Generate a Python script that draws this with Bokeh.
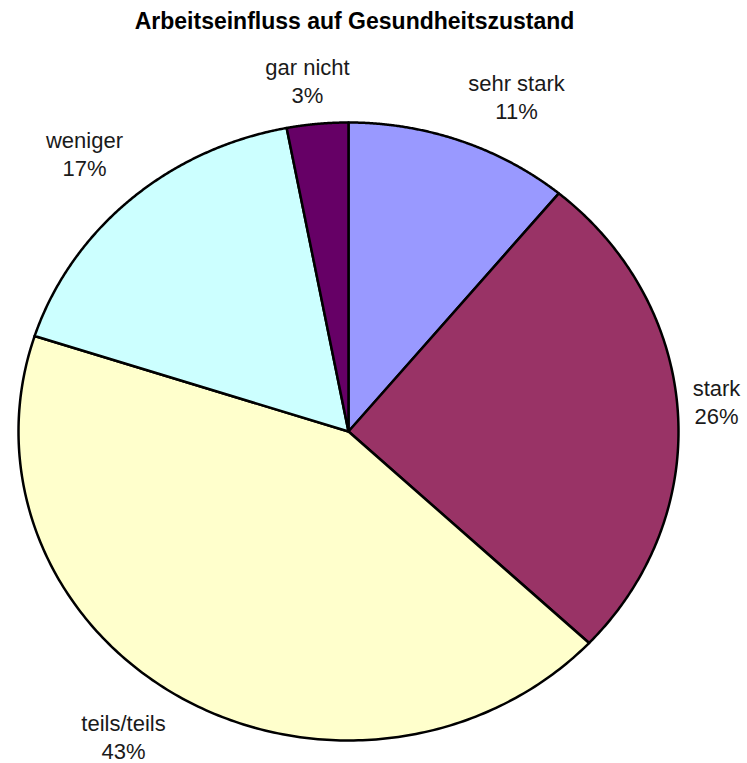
import numpy as np
from bokeh.plotting import figure
from bokeh.models import Range1d, ColumnDataSource
from bokeh.core.properties import value
from bokeh.embed import file_html
from bokeh.resources import INLINE

# ---- data ----
categories = ["sehr stark", "stark", "teils/teils", "weniger", "gar nicht"]
shares = [11, 26, 43, 17, 3]
colors = ["#9999FF", "#993366", "#FFFFCC", "#CCFFFF", "#660066"]
title = "Arbeitseinfluss auf Gesundheitszustand"

# ---- layout (page pixel coordinates) ----
W, H = 747, 763
cx, cy = 348, 431          # pie centre
rx, ry = 330, 309          # pie radii (slightly elliptical, as in the reference)
# label anchor positions (centre of the name line) for each category
label_pos = [(516, 83), (716, 388), (123, 723), (84, 140), (307, 67)]
line_gap = 28

p = figure(width=W, height=H, output_backend="svg", toolbar_location=None,
           x_range=Range1d(0, W), y_range=Range1d(H, 0),
           min_border=0, outline_line_color=None)
p.axis.visible = False
p.grid.visible = False
p.background_fill_color = "white"
p.border_fill_color = "white"

total = float(sum(shares))
cum = np.concatenate([[0], np.cumsum(shares)]) / total * 2 * np.pi
xs, ys = [], []
for i in range(len(shares)):
    t = np.linspace(cum[i], cum[i + 1], 200)
    # angles measured clockwise from 12 o'clock; screen y grows downward
    px = cx + rx * np.sin(t)
    py = cy - ry * np.cos(t)
    xs.append([cx] + list(px) + [cx])
    ys.append([cy] + list(py) + [cy])

src = ColumnDataSource(dict(xs=xs, ys=ys, color=colors))
p.patches("xs", "ys", source=src, fill_color="color", line_color="black",
          line_width=2.5, line_join="round")

lab = ColumnDataSource(dict(
    x=[lp[0] for lp in label_pos],
    y1=[lp[1] for lp in label_pos],
    y2=[lp[1] + line_gap for lp in label_pos],
    name=categories,
    pct=[f"{s}%" for s in shares],
))
font = value("Liberation Sans")
p.text("x", "y1", text="name", source=lab, text_font=font, text_font_size="22px",
       text_align="center", text_baseline="middle", text_color="#1a1a1a")
p.text("x", "y2", text="pct", source=lab, text_font=font, text_font_size="22px",
       text_align="center", text_baseline="middle", text_color="#1a1a1a")

p.text(x=[354], y=[20], text=[title], text_font=font, text_font_size="23px",
       text_font_style="bold", text_align="center", text_baseline="middle",
       text_color="black")

open("out.html", "w").write(file_html(p, INLINE))
